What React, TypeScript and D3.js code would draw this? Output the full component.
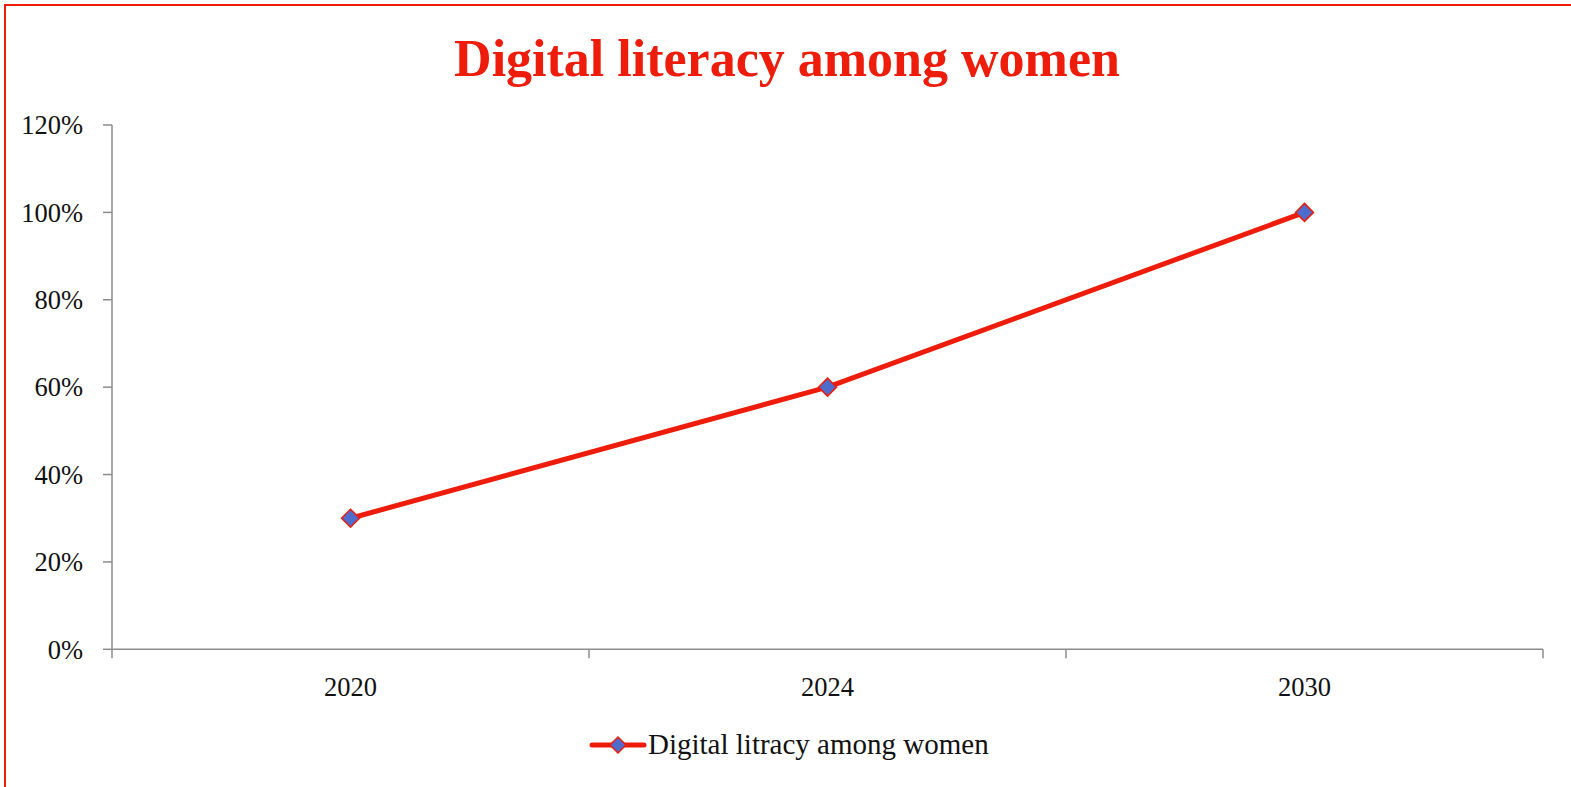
import React from "react";
import * as d3 from "d3";

const categories = ["2020", "2024", "2030"];
const values = [0.3, 0.6, 1.0];
const yTicks = [0, 0.2, 0.4, 0.6, 0.8, 1.0, 1.2];
const title = "Digital literacy among women";
const seriesName = "Digital litracy among women";

const W = 1571;
const H = 787;
const RED = "#ee1c0a";
const BLUE = "#4f6bcc";
const AXIS = "#8c8c8c";
const FONT = "'Liberation Serif', 'DejaVu Serif', serif";

export default function App() {
  const left = 112;
  const right = 1543;
  const top = 125;
  const bottom = 649.3;
  const x = d3.scaleBand<string>().domain(categories).range([left, right]).padding(0);
  const y = d3.scaleLinear().domain([0, 1.2]).range([bottom, top]);
  const line = d3
    .line<number>()
    .x((_, i) => (x(categories[i]) as number) + x.bandwidth() / 2)
    .y((d) => y(d));
  const fmt = d3.format(".0%");
  const diamond = (cx: number, cy: number, r: number) =>
    `M${cx},${cy - r}L${cx + r},${cy}L${cx},${cy + r}L${cx - r},${cy}Z`;
  const bounds = [...categories.map((c) => x(c) as number), right];
  const legY = 745;
  return (
    <svg
      width={W}
      height={H}
      style={{ position: "absolute", left: 0, top: 0, background: "#fff" }}
    >
      <rect x={5} y={5} width={W + 20} height={H + 20} fill="#fff" stroke={RED} strokeWidth={2} />
      <text
        x={787}
        y={76}
        textAnchor="middle"
        fontFamily={FONT}
        fontWeight="bold"
        fontSize={52}
        fill={RED}
      >
        {title}
      </text>
      {/* y axis */}
      <line x1={left} x2={left} y1={top} y2={bottom} stroke={AXIS} strokeWidth={1.5} />
      {yTicks.map((t) => (
        <g key={t}>
          <line x1={left - 9} x2={left} y1={y(t)} y2={y(t)} stroke={AXIS} strokeWidth={1.5} />
          <text
            x={83}
            y={y(t)}
            dy="0.35em"
            textAnchor="end"
            fontFamily={FONT}
            fontSize={26.5}
            fill="#111"
          >
            {fmt(t)}
          </text>
        </g>
      ))}
      {/* x axis */}
      <line x1={left} x2={right} y1={bottom} y2={bottom} stroke={AXIS} strokeWidth={1.5} />
      {bounds.map((b, i) => (
        <line key={i} x1={b} x2={b} y1={bottom} y2={bottom + 9} stroke={AXIS} strokeWidth={1.5} />
      ))}
      {categories.map((c) => (
        <text
          key={c}
          x={(x(c) as number) + x.bandwidth() / 2}
          y={696}
          textAnchor="middle"
          fontFamily={FONT}
          fontSize={26.5}
          fill="#111"
        >
          {c}
        </text>
      ))}
      <path d={line(values) || ""} fill="none" stroke={RED} strokeWidth={5} strokeLinejoin="round" />
      {values.map((v, i) => (
        <path
          key={i}
          d={diamond((x(categories[i]) as number) + x.bandwidth() / 2, y(v), 9)}
          fill={BLUE}
          stroke={RED}
          strokeWidth={1.5}
        />
      ))}
      {/* legend */}
      <line x1={592} x2={644} y1={legY} y2={legY} stroke={RED} strokeWidth={5} strokeLinecap="round" />
      <path d={diamond(618, legY, 8)} fill={BLUE} stroke={RED} strokeWidth={1.5} />
      <text x={648} y={legY} dy="0.32em" fontFamily={FONT} fontSize={29} fill="#111">
        {seriesName}
      </text>
    </svg>
  );
}
